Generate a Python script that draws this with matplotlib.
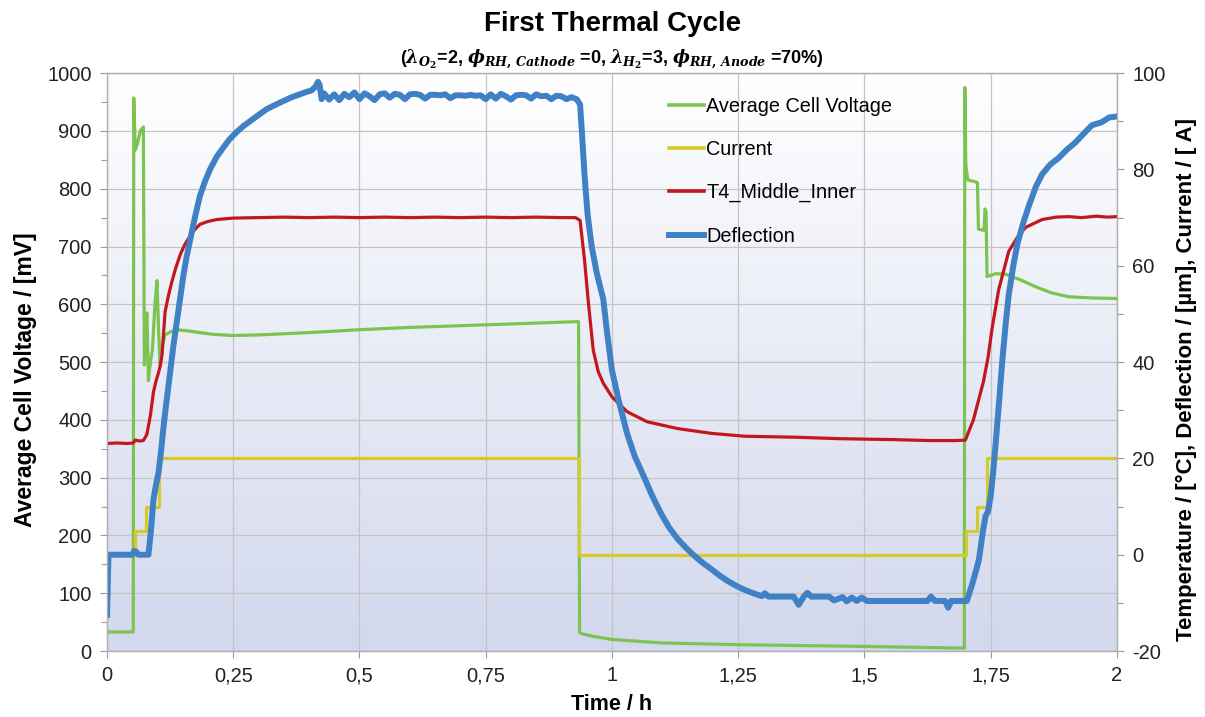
import matplotlib
matplotlib.use("Agg")
import matplotlib.pyplot as plt
import numpy as np
from matplotlib.colors import LinearSegmentedColormap
from matplotlib.lines import Line2D
from matplotlib.ticker import MultipleLocator, FuncFormatter

plt.rcParams["font.family"] = ["Liberation Sans", "DejaVu Sans"]
plt.rcParams["axes.unicode_minus"] = False
plt.rcParams["mathtext.fontset"] = "custom"
plt.rcParams["mathtext.it"] = "DejaVu Serif:italic:bold"
plt.rcParams["mathtext.rm"] = "DejaVu Serif:bold"
plt.rcParams["mathtext.bf"] = "DejaVu Serif:italic:bold"

# ------------------------------
# Data (time in h)
# ------------------------------
# Average cell voltage, mV (left axis)
volt_t = [0, 0.052, 0.053, 0.056, 0.060, 0.066, 0.072, 0.074, 0.077, 0.079,
          0.082, 0.086, 0.090, 0.095, 0.099, 0.102, 0.105, 0.110, 0.115, 0.125,
          0.138, 0.160, 0.184, 0.210, 0.250, 0.300, 0.400, 0.500, 0.600, 0.700,
          0.800, 0.900, 0.934, 0.936, 0.940, 0.960, 1.000, 1.100, 1.250, 1.500,
          1.698, 1.699, 1.701, 1.705, 1.720, 1.724, 1.726, 1.737, 1.739, 1.741,
          1.743, 1.760, 1.780, 1.810, 1.840, 1.870, 1.905, 1.950, 2.000]
volt_mv = [33, 33, 957, 867, 877, 900, 907, 495, 560, 585,
           468, 500, 522, 600, 641, 560, 495, 530, 547, 552,
           556, 554, 551, 548, 546, 547, 551, 556, 560, 563,
           566, 569, 570, 33, 30, 26, 20, 14, 11, 8,
           5, 975, 840, 815, 812, 810, 730, 728, 765, 760,
           648, 653, 652, 642, 630, 620, 613, 611, 610]

# Current, A (right axis) - stepwise set points
curr_t = [0, 0.055, 0.078, 0.103, 0.935, 1.702, 1.724, 1.742, 2.0]
curr_a = [0, 5, 10, 20, 0, 5, 10, 20, 20]

# T4_Middle_Inner temperature, degC (right axis)
temp_t = [0, 0.020, 0.040, 0.052, 0.056, 0.065, 0.072, 0.079, 0.086, 0.092,
          0.097, 0.102, 0.106, 0.109, 0.115, 0.121, 0.128, 0.136, 0.145, 0.153,
          0.161, 0.172, 0.184, 0.200, 0.217, 0.250, 0.300, 0.350, 0.400, 0.450,
          0.500, 0.550, 0.600, 0.650, 0.700, 0.750, 0.800, 0.850, 0.900, 0.928,
          0.937, 0.946, 0.953, 0.963, 0.973, 0.983, 1.000, 1.030, 1.070, 1.130,
          1.197, 1.263, 1.363, 1.450, 1.500, 1.560, 1.630, 1.680, 1.700, 1.716,
          1.736, 1.745, 1.753, 1.766, 1.786, 1.806, 1.820, 1.852, 1.880, 1.905,
          1.930, 1.960, 1.980, 2.000]
temp_c = [23.1, 23.2, 23.1, 23.2, 23.8, 23.6, 23.7, 25.0, 29.0, 33.8,
          36.0, 37.8, 39.5, 41.5, 50.4, 53.5, 56.5, 59.5, 62.3, 64.2,
          65.6, 67.3, 68.6, 69.2, 69.6, 69.9, 70.0, 70.1, 70.0, 70.1,
          70.0, 70.1, 70.0, 70.1, 70.0, 70.1, 70.0, 70.1, 70.0, 70.0,
          69.4, 61.0, 52.8, 42.5, 38.0, 35.6, 32.8, 29.7, 27.6, 26.2,
          25.2, 24.6, 24.4, 24.1, 24.0, 23.9, 23.7, 23.7, 23.8, 28.0,
          36.0, 41.0, 47.0, 55.0, 63.0, 66.4, 68.0, 69.6, 70.1, 70.2,
          70.0, 70.3, 70.1, 70.2]

# Deflection, um (right axis)
defl_t = [0, 0.003, 0.050, 0.054, 0.058, 0.062, 0.082, 0.087, 0.092, 0.097,
          0.102, 0.107, 0.112, 0.118, 0.125, 0.131, 0.138, 0.145, 0.151, 0.157,
          0.164, 0.174, 0.184, 0.194, 0.204, 0.217, 0.230, 0.243, 0.257, 0.270,
          0.283, 0.300, 0.316, 0.333, 0.349, 0.366, 0.382, 0.395, 0.405, 0.413,
          0.418, 0.421, 0.425,
          0.43, 0.44, 0.45, 0.46, 0.47, 0.48, 0.49, 0.50, 0.51, 0.52,
          0.53, 0.54, 0.55, 0.56, 0.57, 0.58, 0.59, 0.60, 0.61, 0.62,
          0.63, 0.64, 0.65, 0.66, 0.67, 0.68, 0.69, 0.70, 0.71, 0.72,
          0.73, 0.74, 0.75, 0.76, 0.77, 0.78, 0.79, 0.80, 0.81, 0.82,
          0.83, 0.84, 0.85, 0.86, 0.87, 0.88, 0.89, 0.90, 0.91, 0.92,
          0.93, 0.937, 0.941, 0.946, 0.952, 0.960, 0.970, 0.983, 0.990, 1.000,
          1.013, 1.030, 1.045, 1.063, 1.080, 1.097, 1.113, 1.130, 1.147, 1.163,
          1.180, 1.197, 1.213, 1.230, 1.247, 1.263, 1.280, 1.297, 1.303, 1.310,
          1.360, 1.370, 1.380, 1.387, 1.395, 1.430, 1.440, 1.457, 1.465, 1.475,
          1.485, 1.495, 1.505, 1.520, 1.600, 1.625, 1.632, 1.640, 1.660, 1.666,
          1.672, 1.703, 1.709, 1.714, 1.722, 1.727, 1.735, 1.740, 1.745, 1.750,
          1.755, 1.760, 1.767, 1.773, 1.780, 1.786, 1.795, 1.803, 1.815, 1.826,
          1.840, 1.852, 1.868, 1.885, 1.900, 1.918, 1.935, 1.951, 1.970, 1.985,
          2.000]
defl_um = [-12.5, 0.0, 0.0, 0.8, 0.6, 0.0, 0.0, 5.0, 11.5, 14.5,
           17.0, 21.5, 26.6, 32.0, 37.8, 43.0, 48.2, 53.5, 57.8, 61.5,
           65.0, 70.0, 74.5, 77.5, 80.0, 82.6, 84.5, 86.3, 87.8, 89.0,
           90.0, 91.3, 92.5, 93.4, 94.2, 95.0, 95.6, 96.1, 96.4, 97.2,
           98.2, 97.6, 94.6,
           95.8, 94.5, 95.6, 94.4, 95.7, 95.0, 96.0, 94.6, 95.8, 95.2,
           94.4, 95.6, 95.8, 94.9, 95.7, 95.5, 94.6, 95.6, 95.7, 95.5,
           94.7, 95.5, 95.5, 95.4, 95.6, 94.8, 95.4, 95.4, 95.3, 95.5,
           95.3, 95.4, 94.6, 95.6, 94.7, 95.7, 95.2, 94.5, 95.4, 95.5,
           95.4, 94.7, 95.6, 95.2, 95.3, 94.6, 95.3, 95.2, 94.6, 95.0,
           94.6, 93.5, 87.0, 78.5, 70.5, 64.0, 58.5, 53.0, 46.5, 38.4,
           32.2, 25.2, 20.5, 16.3, 12.2, 8.6, 5.7, 3.3, 1.4, -0.2,
           -1.7, -3.0, -4.3, -5.5, -6.5, -7.3, -8.0, -8.6, -8.0, -8.7,
           -8.7, -10.4, -8.7, -7.9, -8.7, -8.7, -9.5, -8.8, -9.7, -8.9,
           -9.6, -8.9, -9.6, -9.6, -9.6, -9.6, -8.7, -9.6, -9.6, -11.0,
           -9.6, -9.6, -7.6, -6.0, -3.0, -1.0, 5.0, 8.0, 9.0, 12.0,
           17.0, 23.0, 32.0, 40.0, 48.0, 54.0, 60.0, 64.5, 69.0, 72.5,
           76.5, 79.0, 81.0, 82.4, 84.0, 85.6, 87.5, 89.2, 89.8, 90.8,
           91.0]

labels = ["Average Cell Voltage", "Current", "T4_Middle_Inner", "Deflection"]
colors = ["#7cc350", "#d6c92a", "#c3171f", "#4081c6"]

# ------------------------------
# Figure
# ------------------------------
fig = plt.figure(figsize=(12.05, 7.17), dpi=100)
ax = fig.add_axes([0.0888, 0.092, 0.838, 0.806])
ax2 = ax.twinx()

# plot area background: white at top fading to pale blue
bg = LinearSegmentedColormap.from_list("bg", ["#d2d8ed", "#ffffff"])
ax.imshow(np.linspace(0, 1, 256).reshape(-1, 1), cmap=bg, aspect="auto",
          extent=[0, 1, 0, 1], transform=ax.transAxes, origin="lower", zorder=0)

ax.set_xlim(0, 2)
ax.set_ylim(0, 1000)
ax2.set_ylim(-20, 100)

ax.grid(True, which="major", color="#c4c4c4", lw=0.9, zorder=1)
ax.set_axisbelow(True)

ax.plot(volt_t, volt_mv, color=colors[0], lw=2.3, zorder=3)
ax2.plot(curr_t, curr_a, color=colors[1], lw=2.3, drawstyle="steps-post")
ax2.plot(temp_t, temp_c, color=colors[2], lw=2.3)
ax2.plot(defl_t, defl_um, color=colors[3], lw=4.3, solid_joinstyle="round")

# ticks
ax.xaxis.set_major_locator(MultipleLocator(0.25))
ax.xaxis.set_major_formatter(FuncFormatter(lambda v, p: f"{v:g}".replace(".", ",")))
ax.yaxis.set_major_locator(MultipleLocator(100))
ax.yaxis.set_minor_locator(MultipleLocator(50))
ax2.yaxis.set_major_locator(MultipleLocator(20))
ax2.yaxis.set_minor_locator(MultipleLocator(10))

for a in (ax, ax2):
    a.tick_params(which="major", length=5, width=0.8, color="#9a9a9a",
                  labelsize=14.5, labelcolor="#222222", pad=6)
    a.tick_params(which="minor", length=4, width=0.8, color="#9a9a9a")
    for s in a.spines.values():
        s.set_color("#b0b0b0")
        s.set_linewidth(0.9)

ax.set_xlabel("Time / h", fontsize=15.5, fontweight="bold")
ax.xaxis.set_label_coords(0.5, -0.074)
ax.set_ylabel("Average Cell Voltage / [mV]", fontsize=16.5, fontweight="bold")
ax.yaxis.set_label_coords(-0.069, 0.47)
ax2.set_ylabel("Temperature / [°C], Deflection / [µm], Current / [ A]",
               fontsize=16, fontweight="bold")
ax2.yaxis.set_label_coords(1.059, 0.47)

# legend
handles = [Line2D([], [], color=c, lw=(4.3 if i == 3 else 2.6)) for i, c in enumerate(colors)]
ax2.legend(handles, labels, loc="upper left", bbox_to_anchor=(0.545, 0.98),
           frameon=False, fontsize=14.3, handlelength=1.75, handletextpad=0.12,
           labelspacing=1.22, borderaxespad=0.2)

# titles
fig.text(0.508, 0.966, "First Thermal Cycle", ha="center", va="center",
         fontsize=20, fontweight="bold")
fig.text(0.508, 0.918,
         r"($\lambda_{O_2}$=2, $\phi_{RH,\,Cathode}$ =0, $\lambda_{H_2}$=3, $\phi_{RH,\,Anode}$ =70%)",
         ha="center", va="center", fontsize=13, fontweight="bold")

fig.savefig("out.png", dpi=100)
